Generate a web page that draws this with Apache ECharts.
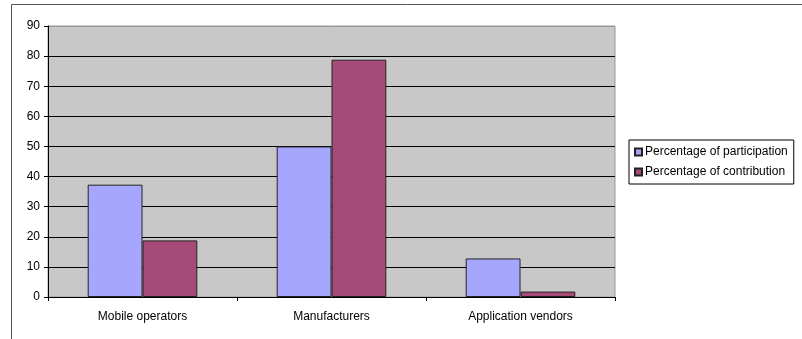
<!DOCTYPE html>
<html>
<head>
<meta charset="utf-8">
<script src="https://cdn.jsdelivr.net/npm/echarts@6/dist/echarts.min.js"></script>
<style>
  html, body { margin: 0; padding: 0; background: #fff; }
  #chart { width: 802px; height: 339px; }
</style>
</head>
<body>
<div id="chart"></div>
<script>
// categories and values
const categories = ['Mobile operators', 'Manufacturers', 'Application vendors'];
const participation = [37.3, 50, 12.8];
const contribution = [18.8, 78.8, 1.8];
const seriesNames = ['Percentage of participation', 'Percentage of contribution'];

const chart = echarts.init(document.getElementById('chart'), null, { renderer: 'canvas' });

// split lines: black, except the top one which is the plot border
const splitColors = ['#000', '#000', '#000', '#000', '#000', '#000', '#000', '#000', '#000', '#999'];

chart.setOption({
  animation: false,
  backgroundColor: '#fff',
  textStyle: { fontFamily: 'Arial, "Liberation Sans", sans-serif' },
  graphic: [
    {
      type: 'rect',
      left: 9, top: 2,
      shape: { width: 820, height: 360 },
      style: { fill: null, stroke: '#555', lineWidth: 1 },
      silent: true
    }
  ],
  grid: {
    left: 48, right: 187, top: 26, bottom: 42,
    show: true,
    backgroundColor: '#c8c8c8',
    borderColor: '#999',
    borderWidth: 1
  },
  legend: {
    orient: 'vertical',
    left: 629, top: 140,
    data: seriesNames,
    icon: 'rect',
    itemWidth: 7, itemHeight: 7,
    itemGap: 8,
    padding: [6, 6, 6, 5],
    borderColor: '#000',
    borderWidth: 1,
    textStyle: { fontSize: 12, color: '#000', padding: [0, 0, 0, -2] }
  },
  xAxis: {
    type: 'category',
    data: categories,
    axisLine: { lineStyle: { color: '#000' } },
    axisTick: { show: true, alignWithLabel: false, length: 4, lineStyle: { color: '#000' } },
    axisLabel: { color: '#000', fontSize: 12, margin: 14 }
  },
  yAxis: {
    type: 'value',
    min: 0, max: 90, interval: 10,
    axisLine: { show: true, lineStyle: { color: '#000' } },
    axisTick: { show: true, length: 4, lineStyle: { color: '#000' } },
    axisLabel: { color: '#000', fontSize: 12, margin: 8 },
    splitLine: { show: true, lineStyle: { color: splitColors, width: 1 } }
  },
  series: [
    {
      name: seriesNames[0],
      type: 'bar',
      data: participation,
      barGap: '0%',
      barCategoryGap: '42%',
      itemStyle: { color: '#a6a6ff', borderColor: '#222', borderWidth: 1 }
    },
    {
      name: seriesNames[1],
      type: 'bar',
      data: contribution,
      itemStyle: { color: '#a64b77', borderColor: '#222', borderWidth: 1 }
    }
  ]
});
</script>
</body>
</html>
